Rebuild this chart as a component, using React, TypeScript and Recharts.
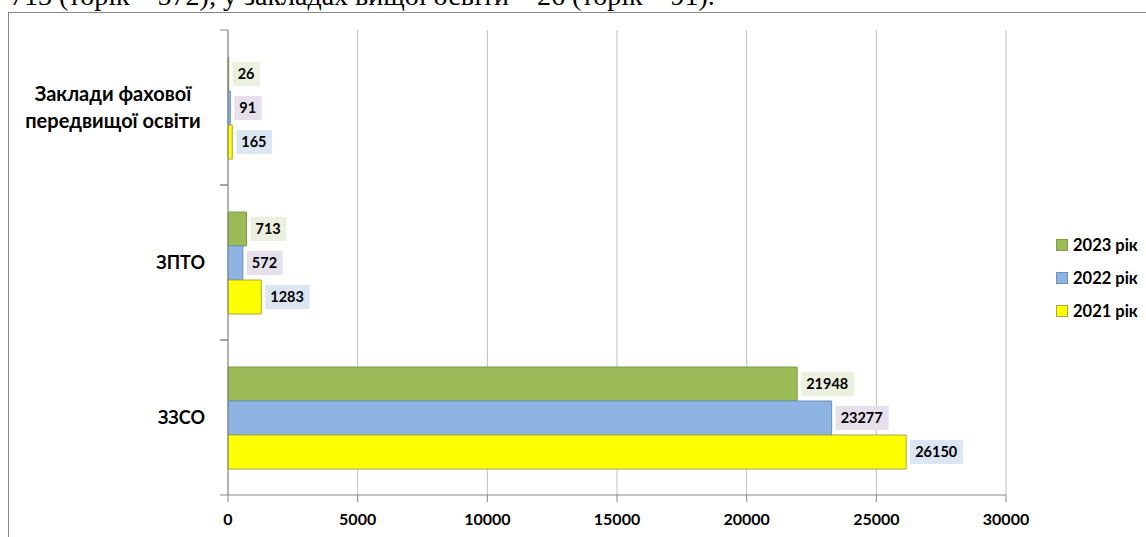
import React from "react";
import {
  Bar,
  BarChart,
  CartesianGrid,
  LabelList,
  Legend,
  XAxis,
  YAxis,
} from "recharts";

const categories = ["Заклади фахової\nпередвищої освіти", "ЗПТО", "ЗЗСО"];
const values2023 = [26, 713, 21948];
const values2022 = [91, 572, 23277];
const values2021 = [165, 1283, 26150];
const xTicks = [0, 5000, 10000, 15000, 20000, 25000, 30000];
const seriesNames = ["2023 рік", "2022 рік", "2021 рік"];

const W = 1146;
const H = 537;
const M = { top: 30, right: 140, bottom: 0, left: 0 };
const Y_AXIS_W = 228;
const X_AXIS_H = 42;
const PLOT_H = H - M.top - M.bottom - X_AXIS_H;
const BAND = PLOT_H / categories.length;
const FONT = "Lato, 'Open Sans', 'Noto Sans', sans-serif";

const data = categories.map((name, i) => ({
  name,
  y2023: values2023[i],
  y2022: values2022[i],
  y2021: values2021[i],
}));

const series = [
  { key: "y2023", name: seriesNames[0], fill: "#9bbb59", stroke: "#7f9a48", labelBg: "#ebf1de" },
  { key: "y2022", name: seriesNames[1], fill: "#8eb4e3", stroke: "#6a8fc0", labelBg: "#e6e0ec" },
  { key: "y2021", name: seriesNames[2], fill: "#ffff00", stroke: "#a8a83c", labelBg: "#dce6f2" },
];

function CategoryTick(props: any) {
  const { x, y, payload } = props;
  const lines = String(payload.value).split("\n");
  const axisX = Y_AXIS_W;
  return (
    <g>
      <line x1={axisX - 8} x2={axisX} y1={y - BAND / 2} y2={y - BAND / 2} stroke="#868686" />
      <line x1={axisX - 8} x2={axisX} y1={y + BAND / 2} y2={y + BAND / 2} stroke="#868686" />
      {lines.length === 1 ? (
        <text x={x - 15} y={y + 2} textAnchor="end" dominantBaseline="middle"
          fontFamily={FONT} fontWeight={700} fontSize={18} fill="#000">
          {lines[0]}
        </text>
      ) : (
        <text x={x - 107} y={y} textAnchor="middle" fontFamily={FONT} fontWeight={700} fontSize={20} fill="#000">
          {lines.map((l, i) => (
            <tspan key={i} x={x - 107} dy={i === 0 ? -12 : 27} dominantBaseline="middle">
              {l}
            </tspan>
          ))}
        </text>
      )}
    </g>
  );
}

function makeLabel(bg: string) {
  return (props: any) => {
    const { x, y, width, height, value } = props;
    const text = String(value);
    const boxW = text.length * 8.6 + 10;
    const bx = x + width + 4;
    const cy = y + height / 2;
    return (
      <g>
        <rect x={bx} y={cy - 12} width={boxW} height={24} fill={bg} />
        <text x={bx + 5} y={cy + 1} dominantBaseline="middle" fontFamily={FONT}
          fontWeight={700} fontSize={14.5} fill="#000">
          {text}
        </text>
      </g>
    );
  };
}

function LegendBox() {
  return (
    <div style={{ fontFamily: FONT, fontWeight: 700, fontSize: 16.5, color: "#000" }}>
      {series.map((s) => (
        <div key={s.key} style={{ display: "flex", alignItems: "center", height: 33 }}>
          <span style={{ width: 10, height: 10, background: s.fill, border: `1px solid ${s.stroke}`, marginRight: 5 }} />
          <span>{s.name}</span>
        </div>
      ))}
    </div>
  );
}

export default function App() {
  return (
    <div style={{ position: "fixed", left: 0, top: 0, width: W, height: H, overflow: "hidden", background: "#fff" }}>
      <div style={{ position: "absolute", left: 10, top: -22, fontFamily: "'Liberation Serif', 'Times New Roman', serif", fontSize: 28, whiteSpace: "nowrap", lineHeight: "36px" }}>
        713 (торік – 572), у закладах вищої освіти – 26 (торік – 91).
      </div>
      <div style={{ position: "absolute", left: 8, top: 12, width: 1300, height: 700, border: "1px solid #868686" }} />
      <div style={{ position: "absolute", left: 0, top: 0 }}>
        <BarChart width={W} height={H} data={data} layout="vertical" margin={M} barGap={0} barSize={34}>
          <CartesianGrid horizontal={false} stroke="#bfbfbf" />
          <XAxis
            type="number"
            domain={[0, 30000]}
            ticks={xTicks}
            height={X_AXIS_H}
            stroke="#868686"
            tickSize={7}
            tickMargin={12}
            tick={{ fontFamily: FONT, fontWeight: 700, fontSize: 16, fill: "#000" }}
          />
          <YAxis
            type="category"
            dataKey="name"
            width={Y_AXIS_W}
            stroke="#868686"
            tickLine={false}
            tick={<CategoryTick />}
            interval={0}
          />
          <Legend
            layout="vertical"
            align="center"
            verticalAlign="middle"
            wrapperStyle={{ left: 1056, top: 228, width: 90 }}
            content={<LegendBox />}
          />
          {series.map((s) => (
            <Bar key={s.key} dataKey={s.key} name={s.name} fill={s.fill} stroke={s.stroke}
              strokeWidth={1} isAnimationActive={false}>
              <LabelList dataKey={s.key} content={makeLabel(s.labelBg)} />
            </Bar>
          ))}
        </BarChart>
      </div>
    </div>
  );
}
